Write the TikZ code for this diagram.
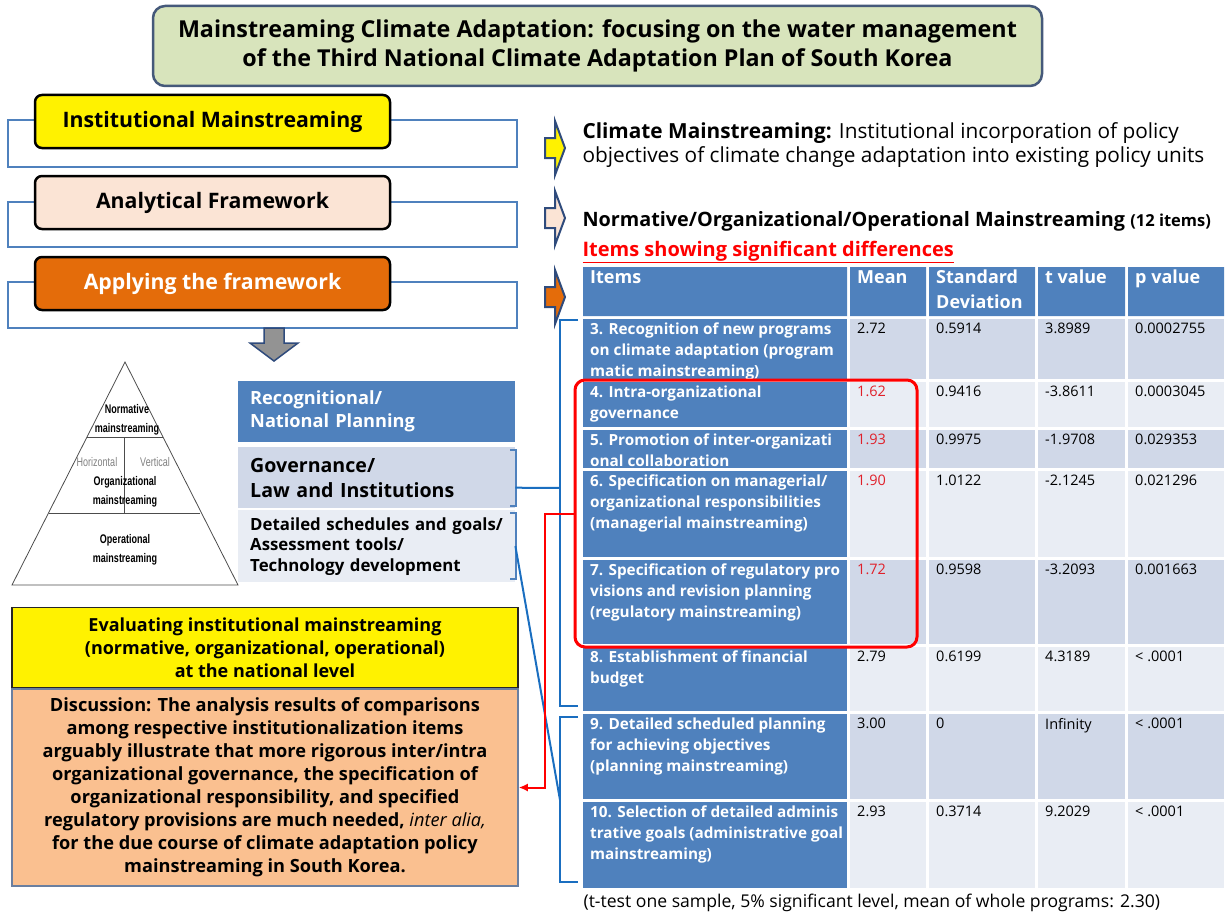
\documentclass[tikz,border=0pt]{standalone}
\usepackage{fontspec}
\setmainfont{Open Sans}
\newfontfamily\narrowfont[FakeStretch=0.72]{Liberation Sans}
\usetikzlibrary{arrows.meta,positioning}

\definecolor{frameblue}{HTML}{4F81BD}
\definecolor{linkblue}{HTML}{1A6EC0}
\definecolor{titlegreen}{HTML}{D8E4BC}
\definecolor{titleedge}{HTML}{45597A}
\definecolor{peach}{HTML}{FBE4D5}
\definecolor{stageorange}{HTML}{E46C0A}
\definecolor{cellblue}{HTML}{4F81BD}
\definecolor{celldark}{HTML}{D0D8E8}
\definecolor{celllight}{HTML}{E9EDF4}
\definecolor{discfill}{HTML}{FAC090}
\definecolor{discedge}{HTML}{6A7FA0}
\definecolor{arrownavy}{HTML}{2F4B7C}
\definecolor{sigred}{HTML}{E0202A}

\tikzset{
  frame/.style={draw=frameblue, line width=2.5pt},
  stagebox/.style={draw=black, line width=2.5pt, rounded corners=7pt, minimum width=355pt,
    minimum height=53pt, inner sep=0pt, font=\bfseries\fontsize{21.3}{24}\selectfont},
  sidebox/.style={anchor=north west, minimum width=277pt, inner xsep=12pt, text width=253pt, align=left},
  celltext/.style={anchor=north west, inner sep=0pt, align=left, font=\fontsize{14.5}{21}\selectfont},
  itemtext/.style={celltext, text=white, font=\bfseries\fontsize{15.3}{21}\selectfont},
  headtext/.style={anchor=north west, inner sep=0pt, align=left, text=white, font=\bfseries\fontsize{18}{25}\selectfont},
  pyrlabel/.style={font=\narrowfont\bfseries\fontsize{12.5}{19}\selectfont, align=center},
  link/.style={draw=linkblue, line width=2pt},
}

% block arrow at the right of the frames: y centre, fill
\newcommand{\pointer}[2]{%
  \draw[arrownavy, line width=2pt, fill=#2, line join=miter]
    (545,#1-10) -- (555,#1-10) -- (555,#1-27) -- (565,#1) -- (555,#1+27) -- (555,#1+10) -- (545,#1+10) -- cycle;}

% one table row: name, top, bottom, fill, item, mean, sd, t, p
\newcommand{\tablerow}[9]{%
  \fill[cellblue] (583,#2) rectangle (847,#3);
  \fill[#4] (850,#2) rectangle (926,#3);
  \fill[#4] (929,#2) rectangle (1035,#3);
  \fill[#4] (1038,#2) rectangle (1125,#3);
  \fill[#4] (1128,#2) rectangle (1224,#3);
  \node[itemtext] (#1-item) at (590,#2+4) {#5};
  \node[celltext] (#1-mean) at (857,#2+4) {#6};
  \node[celltext] (#1-sd) at (936,#2+4) {#7};
  \node[celltext] (#1-t) at (1045,#2+4) {#8};
  \node[celltext] (#1-p) at (1135,#2+4) {#9};}

\begin{document}
\begin{tikzpicture}[x=1pt, y=-1pt]
  \useasboundingbox (0,0) rectangle (1225,915);

  % title
  \node[draw=titleedge, line width=2.5pt, fill=titlegreen, rounded corners=12pt, minimum width=889pt,
    minimum height=80pt, align=center, font=\bfseries\fontsize{23.3}{29}\selectfont] (title) at (597.5,46)
    {Mainstreaming Climate Adaptation: focusing on the water management\\of the Third National Climate Adaptation Plan of South Korea};

  % stages
  \draw[frame] (8,120) rectangle (517,167);
  \draw[frame] (8,202) rectangle (517,247);
  \draw[frame] (8,282) rectangle (517,328);
  \node[stagebox, fill=yellow] (inst) at (212.5,121.5) {Institutional Mainstreaming};
  \node[stagebox, fill=peach] (anal) at (212.5,202.5) {Analytical Framework};
  \node[stagebox, fill=stageorange, text=white] (appl) at (212.5,283.5) {Applying the framework};

  \pointer{148}{yellow}
  \pointer{218}{peach}
  \pointer{297}{stageorange}

  \draw[arrownavy, line width=1.5pt, fill=gray!85, line join=miter]
    (264,328) -- (284,328) -- (284,343) -- (298,343) -- (274,361) -- (250,343) -- (264,343) -- cycle;

  \node[anchor=west, align=left, font=\fontsize{20.8}{24}\selectfont] (defn) at (579,145)
    {\textbf{Climate Mainstreaming:} Institutional incorporation of policy\\objectives of climate change adaptation into existing policy units};
  \node[anchor=west, font=\bfseries\fontsize{19.8}{22}\selectfont] (levels) at (579,221)
    {Normative/Organizational/Operational Mainstreaming {\fontsize{16.5}{18}\selectfont (12 items)}};
  \node[anchor=west, text=red, font=\bfseries\fontsize{20}{22}\selectfont] (sig) at (579,252)
    {\underline{Items showing significant differences}};

  % pyramid
  \draw[gray!60!black, line width=0.8pt] (125,362) -- (238,585) -- (12,585) -- cycle;
  \draw[gray!60!black, line width=0.8pt] (87,437) -- (163,437) (49,513) -- (200,513) (124,437) -- (124,513);
  \node[pyrlabel] (norm) at (127,420) {Normative\\mainstreaming};
  \node[pyrlabel, text=gray, font=\narrowfont\fontsize{12.5}{15}\selectfont] (hori) at (97,462) {Horizontal};
  \node[pyrlabel, text=gray, font=\narrowfont\fontsize{12.5}{15}\selectfont] (vert) at (155,462) {Vertical};
  \node[pyrlabel] (orga) at (125,492) {Organizational\\mainstreaming};
  \node[pyrlabel] (oper) at (125,550) {Operational\\mainstreaming};

  \node[sidebox, fill=cellblue, minimum height=61pt, text=white, font=\bfseries\fontsize{18.2}{23}\selectfont] (recog) at (238,381)
    {Recognitional/\\National Planning};
  \node[sidebox, fill=celldark, minimum height=61pt, font=\bfseries\fontsize{19.6}{25}\selectfont] (gov) at (238,447)
    {Governance/\\Law and Institutions};
  \node[sidebox, fill=celllight, minimum height=72pt, font=\bfseries\fontsize{16.8}{20.5}\selectfont] (detail) at (238,510)
    {Detailed schedules and goals/\\Assessment tools/\\Technology development};
  \draw[frameblue, line width=2pt] (510,450) -- (516,450) -- (516,506) -- (510,506);
  \draw[frameblue, line width=2pt] (510,513) -- (516,513) -- (516,579) -- (510,579);

  % evaluation and discussion
  \node[draw=black!85, line width=1.5pt, fill=yellow, minimum width=506pt, minimum height=80pt, align=center,
    font=\bfseries\fontsize{18}{23}\selectfont] (eval) at (265,647.5)
    {Evaluating institutional mainstreaming\\(normative, organizational, operational)\\at the national level};
  \node[draw=discedge, line width=1.5pt, fill=discfill, minimum width=506pt, minimum height=197pt, anchor=north,
    align=center, font=\bfseries\fontsize{18.2}{23}\selectfont] (disc) at (eval.south)
    {Discussion: The analysis results of comparisons\\among respective institutionalization items\\
     arguably illustrate that more rigorous inter/intra\\organizational governance, the specification of\\
     organizational responsibility, and specified\\regulatory provisions are much needed, {\mdseries\itshape inter alia,}\\
     for the due course of climate adaptation policy\\mainstreaming in South Korea.};

  % table
  \fill[cellblue] (583,267) rectangle (847,316) (850,267) rectangle (926,316) (929,267) rectangle (1035,316)
    (1038,267) rectangle (1125,316) (1128,267) rectangle (1224,316);
  \node[headtext] (h-item) at (590,270) {Items};
  \node[headtext] (h-mean) at (857,270) {Mean};
  \node[headtext] (h-sd) at (936,270) {Standard\\Deviation};
  \node[headtext] (h-t) at (1045,270) {t value};
  \node[headtext] (h-p) at (1135,270) {p value};

  \tablerow{r3}{319}{379}{celldark}{3. Recognition of new programs\\on climate adaptation (program\\matic mainstreaming)}{2.72}{0.5914}{3.8989}{0.0002755}
  \tablerow{r4}{382}{427}{celllight}{4. Intra-organizational\\governance}{\textcolor{sigred}{1.62}}{0.9416}{-3.8611}{0.0003045}
  \tablerow{r5}{430}{468}{celldark}{5. Promotion of inter-organizati\\onal collaboration}{\textcolor{sigred}{1.93}}{0.9975}{-1.9708}{0.029353}
  \tablerow{r6}{471}{557}{celllight}{6. Specification on managerial/\\organizational responsibilities\\(managerial mainstreaming)}{\textcolor{sigred}{1.90}}{1.0122}{-2.1245}{0.021296}
  \tablerow{r7}{560}{644}{celldark}{7. Specification of regulatory pro\\visions and revision planning\\(regulatory mainstreaming)}{\textcolor{sigred}{1.72}}{0.9598}{-3.2093}{0.001663}
  \tablerow{r8}{647}{711}{celllight}{8. Establishment of financial\\budget}{2.79}{0.6199}{4.3189}{< .0001}
  \tablerow{r9}{714}{799}{celldark}{9. Detailed scheduled planning\\for achieving objectives\\(planning mainstreaming)}{3.00}{0}{Infinity}{< .0001}
  \tablerow{r10}{802}{888}{celllight}{10. Selection of detailed adminis\\trative goals (administrative goal\\mainstreaming)}{2.93}{0.3714}{9.2029}{< .0001}

  \node[draw=red, line width=3pt, rounded corners=10pt, minimum width=342pt, minimum height=267pt, inner sep=0pt] (sigbox) at (746,513.5) {};

  \node[anchor=west, font=\fontsize{17.6}{20}\selectfont] (note) at (580,903)
    {(t-test one sample, 5\% significant level, mean of whole programs: 2.30)};

  % connectors
  \coordinate (brk1) at (560,488);
  \coordinate (brk2) at (560,800);
  \draw[link] (578,320) -- (560,320) -- (560,706) -- (578,706);
  \draw[link] (578,717) -- (560,717) -- (560,882) -- (578,882);
  \draw[link] ([yshift=-10pt]gov.east) -- (brk1);
  \draw[link] (detail.east) -- (brk2);
  \draw[red, line width=2pt, -{Latex[length=9pt,width=8pt]}] (sigbox.west) -- ++(-29,0) |- (disc.east);
\end{tikzpicture}
\end{document}
